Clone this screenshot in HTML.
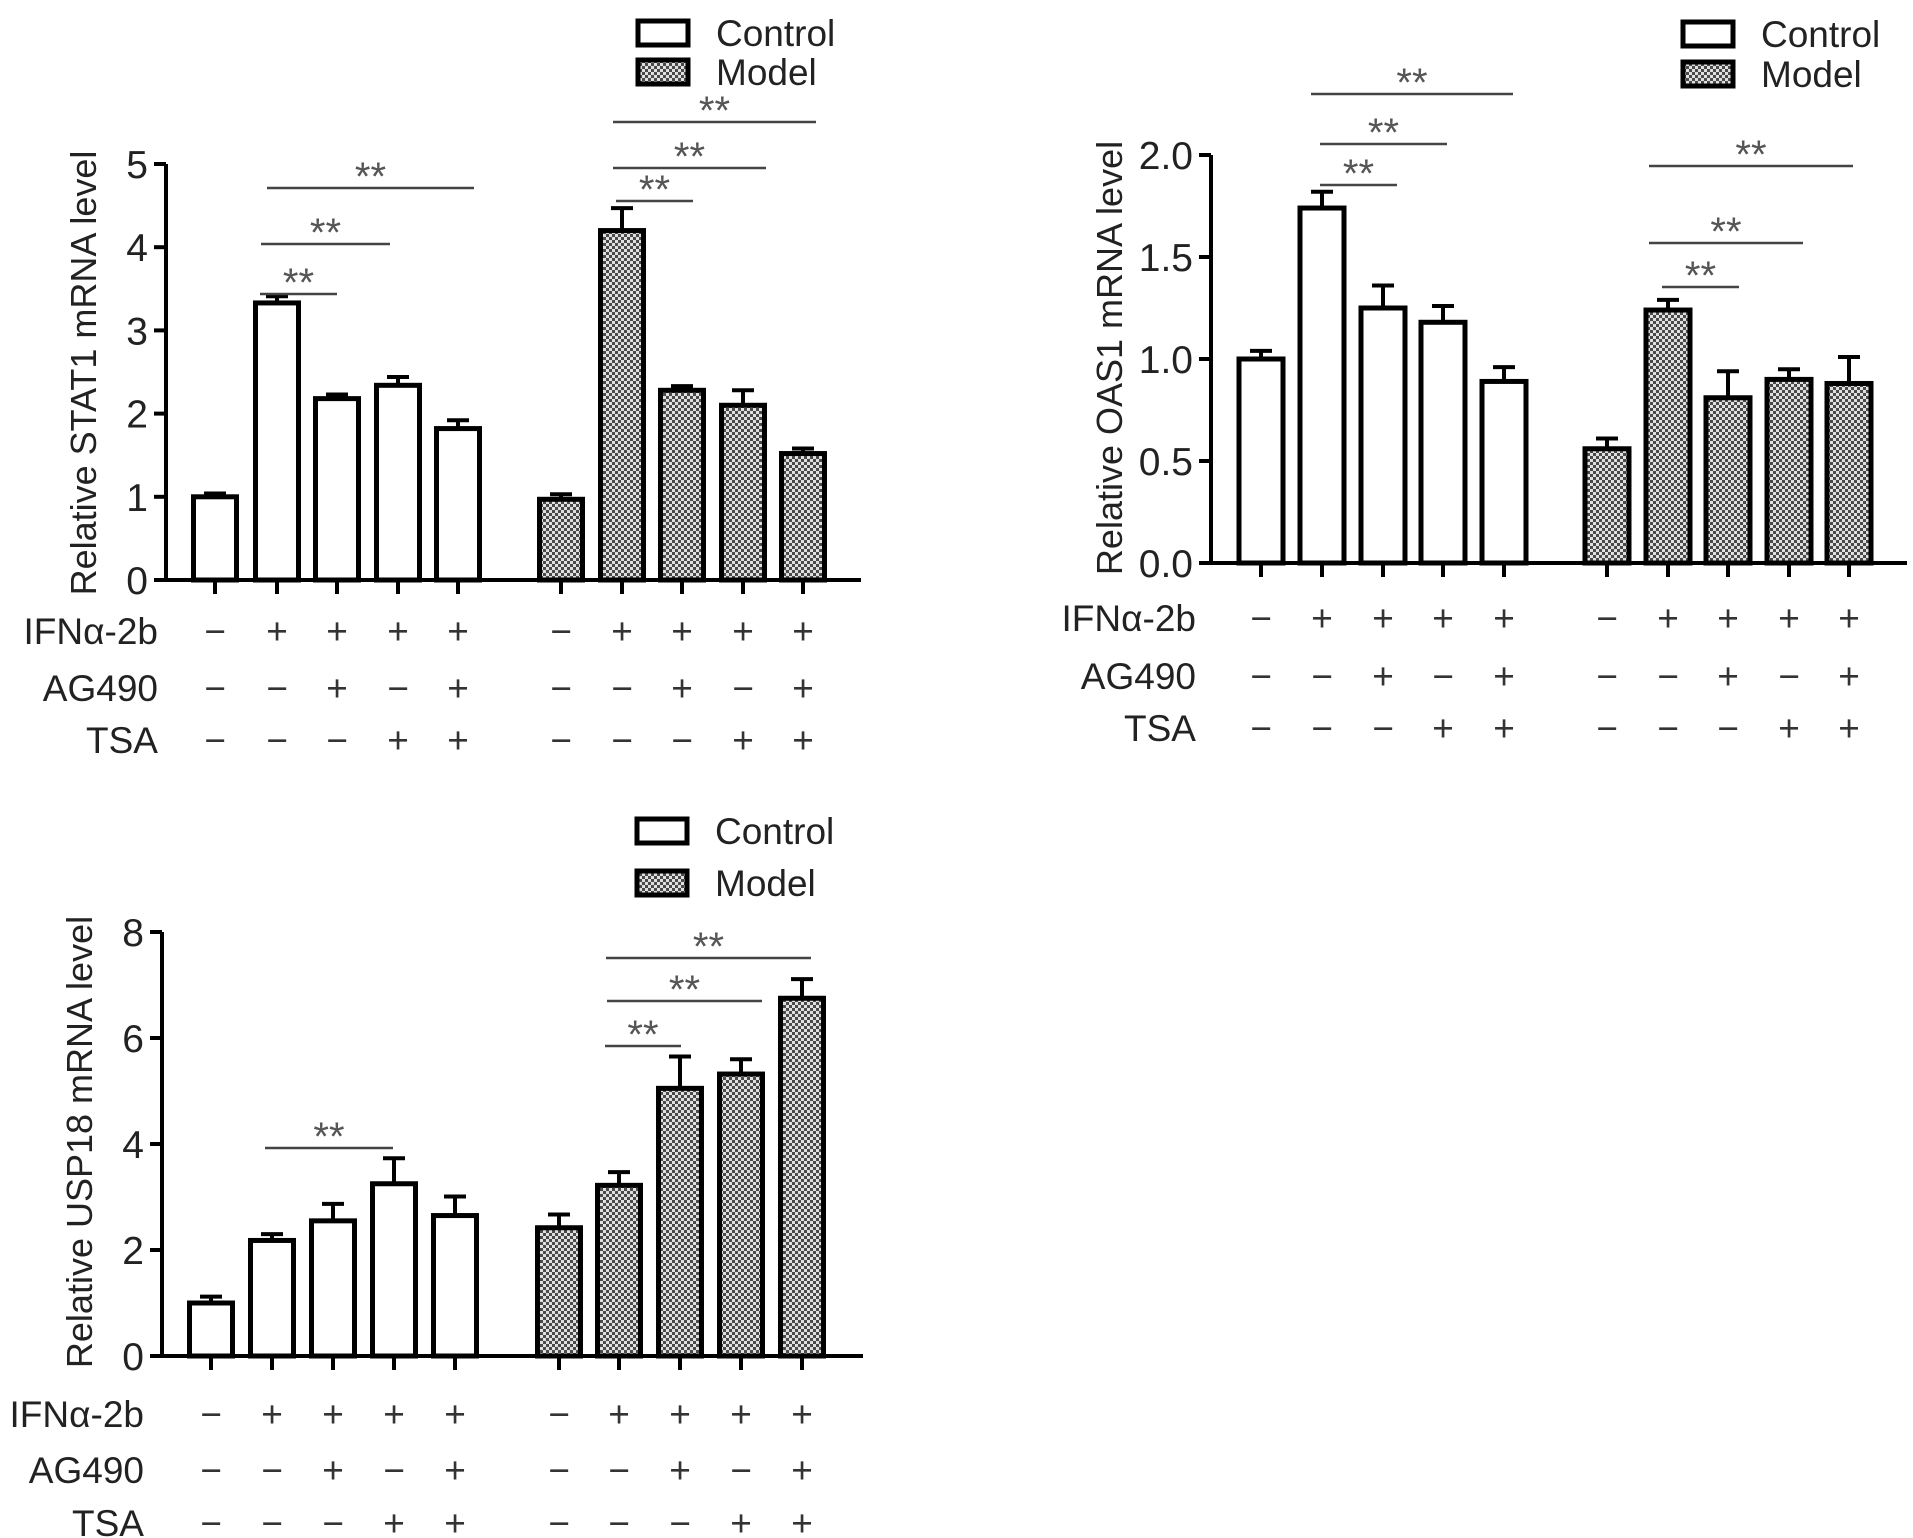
<!DOCTYPE html>
<html><head><meta charset="utf-8">
<style>
html,body{margin:0;padding:0;background:#fff;}
svg{display:block;font-family:"Liberation Sans",Arial,sans-serif;}
</style></head>
<body>
<svg id="fig" width="1913" height="1538" viewBox="0 0 1913 1538" xmlns="http://www.w3.org/2000/svg">
<defs>
<pattern id="chk" width="6" height="6" patternUnits="userSpaceOnUse">
<rect width="6" height="6" fill="#e0e0e0"/>
<rect width="3" height="3" fill="#4a4a4a"/>
<rect x="3" y="3" width="3" height="3" fill="#4a4a4a"/>
</pattern>
</defs>
</svg>
<script>
// ---- data: STAT1 ----
const stat1Ctrl=[1.0,3.33,2.18,2.34,1.82];
const stat1CtrlErr=[0.04,0.08,0.05,0.1,0.1];
const stat1Model=[0.97,4.2,2.28,2.1,1.52];
const stat1ModelErr=[0.06,0.27,0.05,0.18,0.06];
const stat1Ticks=["0","1","2","3","4","5"];
// ---- data: OAS1 ----
const oas1Ctrl=[1.0,1.74,1.25,1.18,0.89];
const oas1CtrlErr=[0.04,0.08,0.11,0.08,0.07];
const oas1Model=[0.56,1.24,0.81,0.9,0.88];
const oas1ModelErr=[0.05,0.05,0.13,0.05,0.13];
const oas1Ticks=["0.0","0.5","1.0","1.5","2.0"];
// ---- data: USP18 ----
const uspCtrl=[1.0,2.18,2.55,3.25,2.65];
const uspCtrlErr=[0.12,0.12,0.32,0.48,0.36];
const uspModel=[2.42,3.22,5.05,5.32,6.75];
const uspModelErr=[0.25,0.25,0.6,0.28,0.36];
const uspTicks=["0","2","4","6","8"];
// treatment rows
const rowNames=["IFNα-2b","AG490","TSA"];
const rowIFN=["−","+","+","+","+"];
const rowAG=["−","−","+","−","+"];
const rowTSA=["−","−","−","+","+"];

const NS="http://www.w3.org/2000/svg";
const svg=document.getElementById('fig');
function mk(tag,attrs,parent){const e=document.createElementNS(NS,tag);for(const k in attrs)e.setAttribute(k,attrs[k]);(parent||svg).appendChild(e);return e;}

function chart(c){
  const g=mk('g',{});
  
  
  const ymax=c.ymax;
  const y=v=>c.y0-(c.y0-c.yTop)*v/ymax;
  const ya=mk('line',{x1:c.ax,y1:c.yTop,x2:c.ax,y2:c.y0+2,stroke:'#000','stroke-width':4},g);
  
  
  const xa=mk('line',{x1:c.ax-12,y1:c.y0,x2:c.axEnd,y2:c.y0,stroke:'#000','stroke-width':4},g);
  
  
  c.ticks.forEach((t,i)=>{
    const v=ymax*i/(c.ticks.length-1);
    mk('line',{x1:c.ax-12,y1:y(v),x2:c.ax,y2:y(v),stroke:'#000','stroke-width':4},g);
    const tx=mk('text',{x:c.ax-18,y:y(v)+14,'text-anchor':'end','font-size':39,fill:'#222'},g);
    tx.textContent=t;
    
    
  });
  const yt=mk('text',{x:0,y:0,'text-anchor':'middle','font-size':36,fill:'#222',transform:`translate(${c.ytx},${c.yty}) rotate(-90)`},g);
  yt.textContent=c.ytitle;
  
  
  const bw=c.bw;
  const series=[[c.ctrl,c.ctrlErr,c.xs.slice(0,5),'#fff','control'],[c.model,c.modelErr,c.xs.slice(5),'url(#chk)','model']];
  series.forEach(([vals,errs,xs,fill,nm])=>{
    vals.forEach((v,i)=>{
      const cx=xs[i];
      const et=y(v+errs[i]);
      mk('line',{x1:cx,y1:y(v),x2:cx,y2:et,stroke:'#000','stroke-width':4},g);
      mk('line',{x1:cx-11,y1:et,x2:cx+11,y2:et,stroke:'#000','stroke-width':4},g);
      const r=mk('rect',{x:cx-bw/2,y:y(v),width:bw,height:c.y0-y(v),fill:fill,stroke:'#000','stroke-width':5},g);
      
      
      mk('line',{x1:cx,y1:c.y0,x2:cx,y2:c.y0+14,stroke:'#000','stroke-width':4},g);
    });
  });
  const rows=[rowIFN,rowAG,rowTSA];
  rows.forEach((row,ri)=>{
    const lb=mk('text',{x:c.lblX,y:c.rowY[ri]+13,'text-anchor':'end','font-size':37,fill:'#222'},g);
    lb.textContent=rowNames[ri];
    
    
    c.xs.forEach((cx,i)=>{
      const t=mk('text',{x:cx,y:c.rowY[ri]+13,'text-anchor':'middle','font-size':37,fill:'#333'},g);
      t.textContent=row[i%5];
      
      
    });
  });
  c.sig.forEach(s=>{
    const l=mk('line',{x1:s[0],y1:s[2],x2:s[1],y2:s[2],stroke:'#444','stroke-width':2.5},g);
    
    
    const st=mk('text',{x:(s[0]+s[1])/2,y:s[2]+2,'text-anchor':'middle','font-size':40,fill:'#555'},g);
    st.textContent='**';
    
    
  });
  [['Control','#fff',c.leg[1]],['Model','url(#chk)',c.leg[2]]].forEach(([t,f,ly])=>{
    const b=mk('rect',{x:c.leg[0],y:ly-12,width:50,height:24,fill:f,stroke:'#000','stroke-width':5},g);
    
    
    const tx=mk('text',{x:c.leg[0]+78,y:ly+13,'font-size':37,fill:'#222'},g);
    tx.textContent=t;
    
    
  });
}

chart({name:'stat1-chart',ax:166,axEnd:861,y0:580,yTop:164,ymax:5,ticks:stat1Ticks,
  ctrl:stat1Ctrl,ctrlErr:stat1CtrlErr,model:stat1Model,modelErr:stat1ModelErr,
  xs:[215,277,337,398,458,561,622,682,743,803],bw:43,
  ytitle:'Relative STAT1 mRNA level',ytx:96,yty:373,lblX:158,rowY:[631,688,740],
  sig:[[260,337,294],[261,390,244],[267,474,188],[616,693,201],[613,766,168],[613,816,122]],
  leg:[638,33,72]});
chart({name:'oas1-chart',ax:1211,axEnd:1907,y0:563,yTop:155,ymax:2,ticks:oas1Ticks,
  ctrl:oas1Ctrl,ctrlErr:oas1CtrlErr,model:oas1Model,modelErr:oas1ModelErr,
  xs:[1261,1322,1383,1443,1504,1607,1668,1728,1789,1849],bw:44,
  ytitle:'Relative OAS1 mRNA level',ytx:1122,yty:358,lblX:1196,rowY:[618,676,728],
  sig:[[1320,1397,185],[1320,1447,144],[1311,1513,94],[1662,1739,287],[1649,1803,243],[1649,1853,166]],
  leg:[1683,34,74]});
chart({name:'usp18-chart',ax:162,axEnd:863,y0:1356,yTop:932,ymax:8,ticks:uspTicks,
  ctrl:uspCtrl,ctrlErr:uspCtrlErr,model:uspModel,modelErr:uspModelErr,
  xs:[211,272,333,394,455,559,619,680,741,802],bw:43,
  ytitle:'Relative USP18 mRNA level',ytx:92,yty:1142,lblX:144,rowY:[1414,1470,1523],
  sig:[[265,393,1148],[605,681,1046],[607,762,1001],[606,811,958]],
  leg:[637,831,883]});
</script>
</body></html>
